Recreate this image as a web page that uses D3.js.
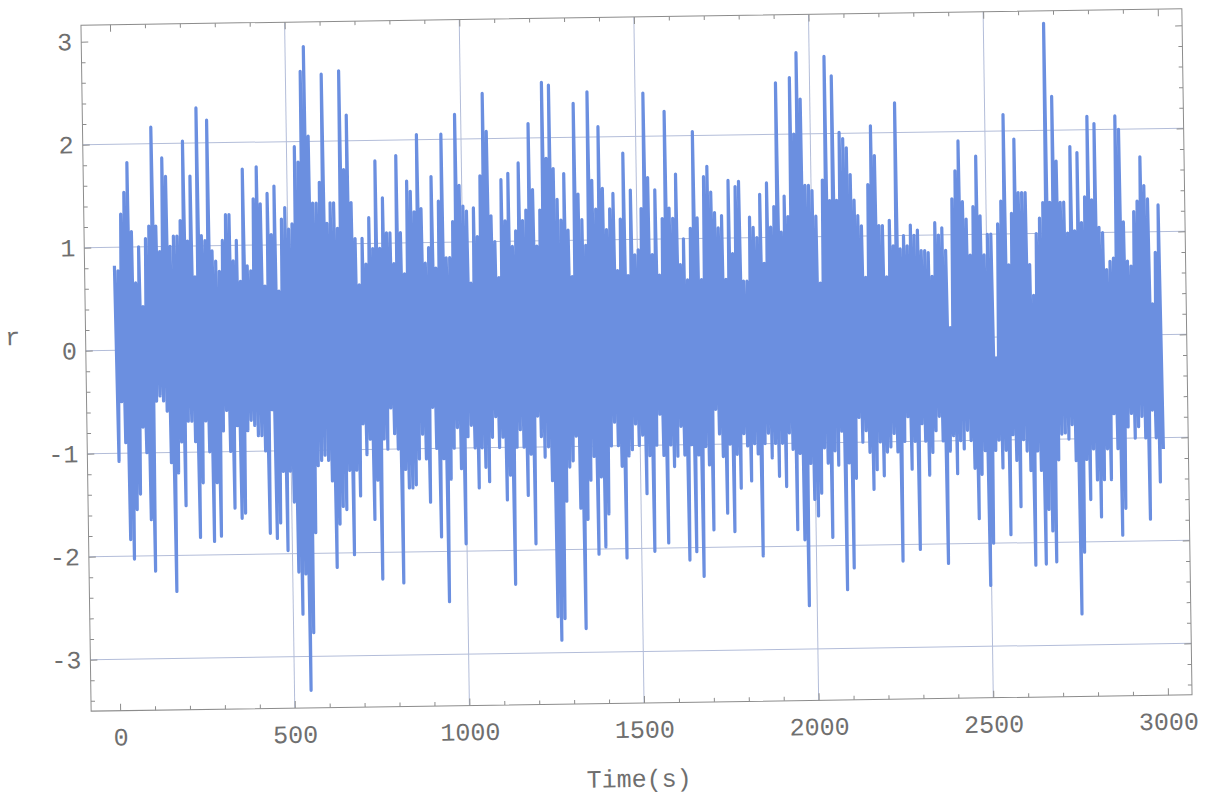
<!DOCTYPE html>
<html><head><meta charset="utf-8">
<script src="https://cdn.jsdelivr.net/npm/d3@7"></script>
<style>html,body{margin:0;padding:0;background:#fff;} svg{display:block;}</style>
</head><body>
<svg id="chart" width="1211" height="799"></svg>
<script>
// ---- data: per 10-second bin, the highest and lowest r ----
const binSeconds = 10;
const rUpper = [
0.82,0.77,1.32,1.53,1.82,1.15,0.65,1.0,0.42,1.08,
1.2,2.16,1.2,0.95,1.86,1.68,1.0,1.1,1.1,1.25,
2.02,1.05,1.68,0.7,2.34,1.1,1.05,2.22,0.95,0.85,
0.75,1.05,1.3,1.3,0.85,1.05,0.65,1.74,0.8,0.75,
1.45,1.76,1.4,0.6,1.5,1.1,1.57,0.55,1.25,1.36,
1.15,1.2,1.95,1.8,2.68,2.92,2.05,1.4,1.4,1.6,
2.65,1.2,1.4,1.4,1.15,2.68,1.72,2.25,1.4,1.05,
0.6,1.05,0.8,1.25,0.95,1.8,0.95,1.44,1.1,1.1,
0.8,1.85,1.1,0.7,1.6,1.5,1.3,2.05,1.33,0.8,
0.95,1.64,0.75,1.4,2.05,0.85,0.85,1.2,2.24,1.55,
1.35,1.3,0.6,1.33,1.05,1.64,2.44,2.07,1.25,1.0,
0.65,1.6,1.2,1.66,0.95,1.1,1.76,1.2,1.3,2.14,
1.5,0.95,1.3,2.54,1.8,2.51,1.7,1.4,1.2,1.65,
1.1,0.65,2.33,1.45,1.2,0.95,2.44,1.58,1.3,2.1,
1.5,1.1,1.3,1.45,0.7,1.2,1.84,0.65,1.48,0.85,
0.9,1.3,2.42,1.6,0.85,1.48,0.65,1.2,2.24,1.3,
1.2,1.63,0.75,1.0,0.6,1.1,2.04,1.2,0.6,1.6,
1.7,1.45,1.25,1.1,1.22,0.6,1.56,0.85,1.5,1.55,
0.58,0.58,1.2,1.1,1.0,1.42,0.75,1.53,1.1,1.3,
2.5,1.05,1.4,1.2,2.55,2.0,2.79,2.34,1.5,1.5,
1.45,1.2,0.55,1.55,2.75,1.35,2.56,1.35,2.01,1.95,
1.86,1.6,1.35,1.2,1.1,0.6,1.5,2.07,1.78,1.1,
1.1,0.6,1.15,0.9,2.29,0.87,1.0,0.9,1.1,1.0,
1.05,0.85,0.85,0.83,0.6,1.12,1.0,1.07,0.85,0.1,
1.35,1.62,1.91,1.32,1.15,0.8,1.27,1.76,1.18,0.8,
1.0,1.0,-0.2,1.1,1.32,2.16,0.7,1.2,1.92,1.4,
1.4,1.4,0.7,0.4,1.0,1.15,1.3,3.04,1.3,2.33,
1.7,1.3,1.3,1.0,1.84,1.02,1.78,1.1,1.35,2.13,
1.32,2.06,1.05,1.0,0.64,0.72,0.75,2.13,2.0,1.1,
0.72,0.67,1.2,1.3,1.73,1.45,1.32,0.3,0.8,1.26
];
const rLower = [
-1.08,-0.5,-0.9,-1.84,-2.03,-1.55,-1.4,-0.75,-1.0,-1.65,
-2.15,-0.5,-0.45,-0.5,-0.6,-1.1,-2.35,-1.2,-0.9,-1.52,
-0.7,-0.7,-0.9,-1.83,-1.3,-0.7,-1.0,-1.87,-1.3,-1.82,
-0.8,-0.6,-1.0,-1.55,-0.75,-1.65,-1.6,-0.8,-0.7,-0.75,
-0.85,-0.85,-1.0,-1.8,-0.6,-1.85,-1.7,-1.2,-1.97,-1.2,
-1.5,-2.18,-2.59,-2.2,-3.33,-2.77,-1.8,-1.15,-1.1,-1.05,
-1.1,-1.3,-2.14,-1.72,-1.55,-1.58,-1.2,-2.02,-1.2,-1.45,
-0.75,-1.05,-0.9,-1.68,-1.3,-2.26,-0.9,-1.0,-0.6,-0.85,
-1.0,-2.3,-1.2,-1.38,-1.38,-1.35,-1.1,-0.86,-1.1,-1.52,
-0.6,-1.0,-1.86,-1.1,-2.49,-1.3,-1.0,-0.8,-1.2,-1.93,
-0.89,-0.78,-1.0,-1.39,-1.0,-1.19,-1.33,-0.9,-0.7,-1.0,
-0.9,-1.51,-1.27,-2.33,-1.0,-0.83,-1.0,-1.47,-1.07,-1.94,
-0.7,-0.9,-1.1,-1.0,-1.33,-2.65,-2.88,-2.67,-1.53,-1.2,
-1.14,-0.9,-1.6,-2.77,-1.71,-1.33,-1.1,-2.05,-1.3,-1.98,
-1.66,-1.0,-0.77,-1.0,-1.2,-2.09,-1.1,-1.04,-0.79,-1.0,
-0.9,-1.47,-1.1,-2.03,-1.0,-0.7,-1.1,-1.95,-1.0,-1.21,
-1.11,-0.82,-1.1,-2.12,-1.0,-2.04,-1.1,-2.28,-1.02,-1.2,
-1.83,-0.66,-0.9,-1.12,-1.67,-1.0,-1.85,-1.1,-1.43,-0.9,
-1.02,-1.36,-1.0,-1.1,-2.09,-1.0,-0.9,-1.14,-1.0,-1.32,
-1.0,-1.42,-0.9,-1.06,-1.84,-1.1,-1.94,-2.58,-1.2,-1.55,
-1.71,-1.49,-1.05,-1.2,-1.92,-1.08,-1.22,-0.89,-2.43,-1.2,
-2.22,-1.35,-0.76,-1.0,-0.89,-1.1,-1.46,-1.27,-1.0,-1.33,
-1.1,-1.05,-0.92,-1.1,-2.16,-1.0,-0.76,-1.27,-1.0,-2.05,
-0.83,-1.0,-1.33,-1.11,-0.9,-0.76,-1.0,-2.19,-1.1,-0.95,
-1.32,-1.0,-1.08,-0.9,-1.0,-1.27,-1.76,-1.33,-1.1,-2.41,
-2.0,-1.1,-1.0,-1.27,-1.1,-1.92,-0.95,-1.2,-1.65,-1.0,
-1.11,-1.3,-2.22,-1.11,-1.3,-2.21,-1.68,-1.89,-2.19,-1.2,
-0.95,-0.94,-1.0,-0.86,-1.21,-2.7,-2.1,-1.2,-1.59,-1.1,
-1.4,-1.76,-1.4,-1.1,-1.4,-0.76,-1.1,-1.94,-1.68,-0.89,
-0.76,-1.0,-0.89,-0.79,-1.0,-1.79,-0.73,-1.0,-1.43,-1.11
];
const xMajorTicks = [0,500,1000,1500,2000,2500,3000];
const xMinorTicks = d3.range(0, 3001, 100).filter(v => v % 500 !== 0);
const yMajorTicks = [-3,-2,-1,0,1,2,3];
const yMinorTicks = d3.range(-34, 31, 2).map(v => v / 10).filter(v => Math.abs(v - Math.round(v)) > 1e-9);
const xGridValues = [500,1000,1500,2000,2500];
const yGridValues = [-3,-2,-1,0,1,2];
const xLabel = "Time(s)";
const yLabel = "r";

// ---- layout ----
const L = 86, R = 1187, T = 17, B = 703;
const font = "'Liberation Mono', 'Courier New', monospace";
const labelColor = "#6f6f6f";
const frameColor = "#8c8c8c";
const gridColor = "#b3bdd9";
const lineColor = "#6b8fe0";

const svg = d3.select("#chart");
const g = svg.append("g").attr("transform", "rotate(-0.85 636 360)");

const x = d3.scaleLinear().domain([-83, 3069]).range([L, R]);
const y = d3.scaleLinear().domain([-3.5, 3.16]).range([B, T]);

// grid
g.append("g").selectAll("line").data(xGridValues).join("line")
  .attr("x1", d => x(d)).attr("x2", d => x(d)).attr("y1", T).attr("y2", B)
  .attr("stroke", gridColor).attr("stroke-width", 1);
g.append("g").selectAll("line").data(yGridValues).join("line")
  .attr("x1", L).attr("x2", R).attr("y1", d => y(d)).attr("y2", d => y(d))
  .attr("stroke", gridColor).attr("stroke-width", 1);

// series
const pts = [];
rUpper.forEach((v, i) => {
  pts.push([i * binSeconds + 2.5, v]);
  pts.push([i * binSeconds + 7.5, rLower[i]]);
});
const line = d3.line().x(d => x(d[0])).y(d => y(d[1]));
g.append("path").datum(pts).attr("d", line)
  .attr("fill", "none").attr("stroke", lineColor)
  .attr("stroke-width", 3.2).attr("stroke-linejoin", "round");

// axes (ticks inward)
function styleAxis(sel) {
  sel.select(".domain").remove();
  sel.selectAll(".tick line").attr("stroke", frameColor);
  sel.selectAll("text").attr("fill", labelColor).attr("font-family", font).attr("font-size", 25);
  sel.attr("font-family", font).attr("font-size", 25);
}
const axB = g.append("g").attr("transform", `translate(0,${B})`)
  .call(d3.axisBottom(x).tickValues(xMajorTicks).tickSize(-7).tickPadding(17).tickFormat(d3.format("d")));
styleAxis(axB);
const axBm = g.append("g").attr("transform", `translate(0,${B})`)
  .call(d3.axisBottom(x).tickValues(xMinorTicks).tickSize(-4).tickFormat(""));
styleAxis(axBm);
const axT = g.append("g").attr("transform", `translate(0,${T})`)
  .call(d3.axisTop(x).tickValues(xMajorTicks).tickSize(-7).tickFormat(""));
styleAxis(axT);
const axTm = g.append("g").attr("transform", `translate(0,${T})`)
  .call(d3.axisTop(x).tickValues(xMinorTicks).tickSize(-4).tickFormat(""));
styleAxis(axTm);

const axL = g.append("g").attr("transform", `translate(${L},0)`)
  .call(d3.axisLeft(y).tickValues(yMajorTicks).tickSize(-7).tickPadding(9).tickFormat(d => String(d)));
styleAxis(axL);
const axLm = g.append("g").attr("transform", `translate(${L},0)`)
  .call(d3.axisLeft(y).tickValues(yMinorTicks).tickSize(-4).tickFormat(""));
styleAxis(axLm);
const axR = g.append("g").attr("transform", `translate(${R},0)`)
  .call(d3.axisRight(y).tickValues(yMajorTicks).tickSize(-7).tickFormat(""));
styleAxis(axR);
const axRm = g.append("g").attr("transform", `translate(${R},0)`)
  .call(d3.axisRight(y).tickValues(yMinorTicks).tickSize(-4).tickFormat(""));
styleAxis(axRm);

// frame
g.append("rect").attr("x", L).attr("y", T).attr("width", R - L).attr("height", B - T)
  .attr("fill", "none").attr("stroke", frameColor).attr("stroke-width", 1);

// axis labels
g.append("text").attr("x", 633).attr("y", 787).attr("text-anchor", "middle")
  .attr("font-family", font).attr("font-size", 25).attr("fill", labelColor).text(xLabel);
g.append("text").attr("x", 13).attr("y", 336).attr("text-anchor", "middle")
  .attr("font-family", font).attr("font-size", 25).attr("fill", labelColor).text(yLabel);
</script>
</body></html>
